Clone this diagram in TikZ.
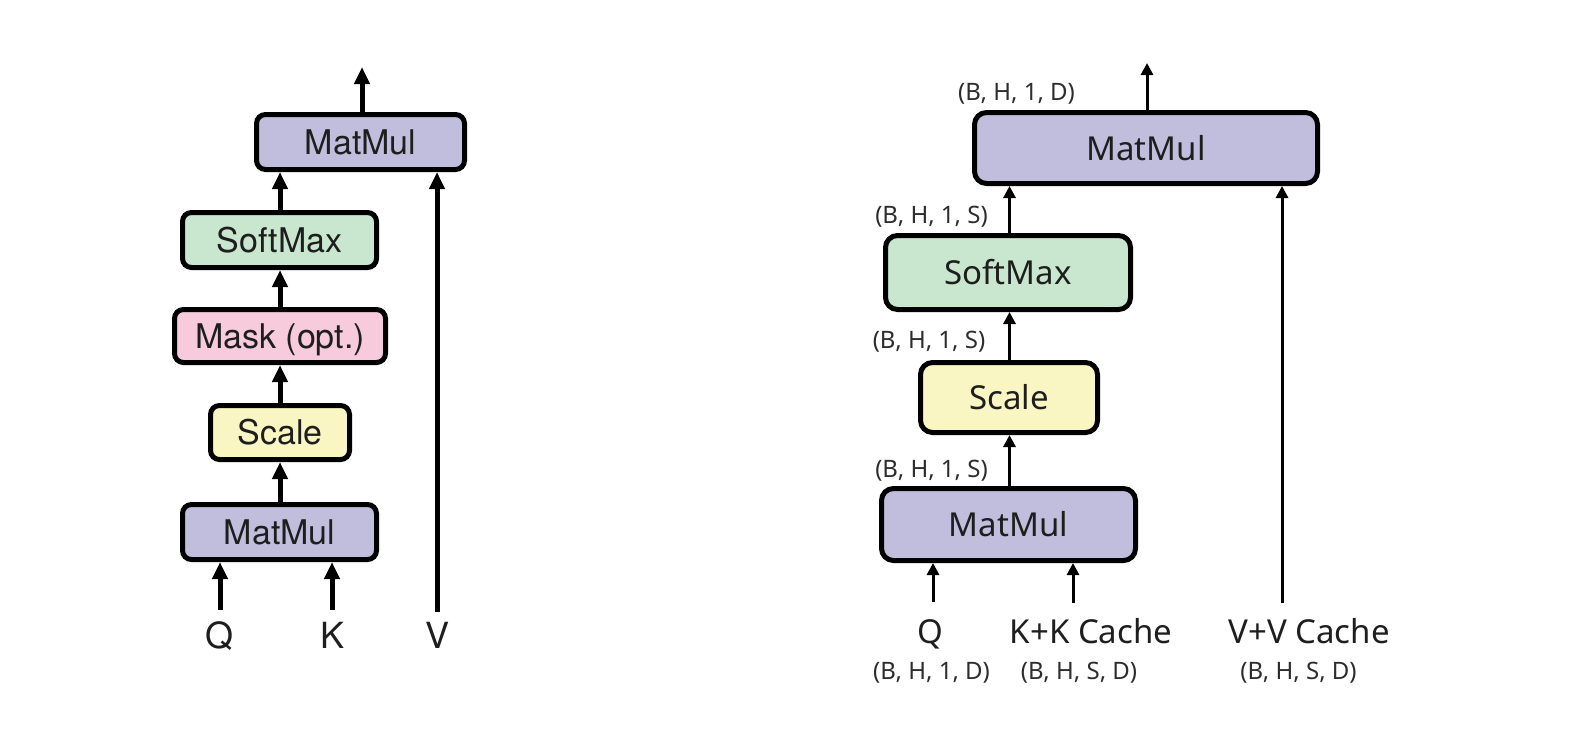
\documentclass[tikz,border=0pt]{standalone}
\usepackage{fontspec}
\setmainfont{TeX Gyre Heros}
\newfontfamily\rfont{Noto Sans}
\usetikzlibrary{arrows.meta}
\definecolor{cpurple}{RGB}{193,190,221}
\definecolor{cgreen}{RGB}{201,230,206}
\definecolor{cpink}{RGB}{247,203,219}
\definecolor{cyellow}{RGB}{250,246,196}
\definecolor{ctext}{RGB}{30,30,30}
\definecolor{clabel}{RGB}{45,45,45}
\begin{document}
\begin{tikzpicture}[x=1pt,y=-1pt,
 lbox/.style={draw=black, line width=5pt, rounded corners=9pt, inner sep=0pt, font=\fontsize{34}{40}\selectfont, text=ctext, text height=24pt, text depth=0pt},
 rbox/.style={draw=black, line width=5pt, rounded corners=12pt, inner sep=0pt, font=\rfont\fontsize{33}{40}\selectfont, text=ctext, text height=24pt, text depth=0pt},
 larr/.style={line width=5pt, -{Triangle[width=15pt,length=17pt]}},
 rarr/.style={line width=3pt, -{Triangle[width=12pt,length=12pt]}},
 lin/.style={font=\fontsize{36}{40}\selectfont, text=ctext, inner sep=0pt, anchor=base},
 rin/.style={font=\rfont\fontsize{33}{40}\selectfont, text=ctext, inner sep=0pt, anchor=base},
 shp/.style={font=\rfont\fontsize{24}{28}\selectfont, text=clabel, inner sep=0pt, anchor=base},
]
\fill[white] (0,0) rectangle (1586,744);
\useasboundingbox (0,0) rectangle (1586,744);

% ---------- left diagram ----------
\node[lbox, fill=cpurple, minimum width=208pt, minimum height=55pt] (lmm2) at (360.5,142) {MatMul};
\node[lbox, fill=cgreen, minimum width=194pt, minimum height=55pt] (lsm) at (279.5,240) {SoftMax};
\node[lbox, fill=cpink, minimum width=211pt, minimum height=53pt] (lmask) at (280,336) {Mask (opt.)};
\node[lbox, fill=cyellow, minimum width=139pt, minimum height=54pt] (lsc) at (280,432.5) {Scale};
\node[lbox, fill=cpurple, minimum width=194pt, minimum height=55pt] (lmm1) at (279.5,532) {MatMul};

\node[lin] (lq) at (220,648) {Q};
\node[lin] (lk) at (333,648) {K};
\node[lin] (lv) at (437,648) {V};

\coordinate (lcol) at (280,0);
\coordinate (lq0) at (220,610);
\coordinate (lk0) at (332,610);
\coordinate (lv0) at (437,612);
\coordinate (lout) at (362,67);

\draw[larr] (lq0) -- (lq0 |- lmm1.south);
\draw[larr] (lk0) -- (lk0 |- lmm1.south);
\draw[larr] (lcol |- lmm1.north) -- (lcol |- lsc.south);
\draw[larr] (lcol |- lsc.north) -- (lcol |- lmask.south);
\draw[larr] (lcol |- lmask.north) -- (lcol |- lsm.south);
\draw[larr] (lcol |- lsm.north) -- (lcol |- lmm2.south);
\draw[larr] (lv0) -- (lv0 |- lmm2.south);
\draw[larr] (lout |- lmm2.north) -- (lout);

% ---------- right diagram ----------
\node[rbox, fill=cpurple, minimum width=343pt, minimum height=71pt] (rmm2) at (1146,148) {MatMul};
\node[rbox, fill=cgreen, minimum width=245pt, minimum height=74pt] (rsm) at (1008,272.5) {SoftMax};
\node[rbox, fill=cyellow, minimum width=177pt, minimum height=70pt] (rsc) at (1009,397.5) {Scale};
\node[rbox, fill=cpurple, minimum width=254pt, minimum height=72pt] (rmm1) at (1008.5,524.5) {MatMul};

\node[rin] (rq) at (930,643) {Q};
\node[rin] (rk) at (1091,643) {K+K Cache};
\node[rin] (rv) at (1309,643) {V+V Cache};

\node[shp] (sq) at (931.5,679) {(B, H, 1, D)};
\node[shp] (sk) at (1079,679) {(B, H, S, D)};
\node[shp] (sv) at (1298.5,679) {(B, H, S, D)};
\node[shp] (s1) at (931.5,477) {(B, H, 1, S)};
\node[shp] (s2) at (929,348) {(B, H, 1, S)};
\node[shp] (s3) at (931.5,223) {(B, H, 1, S)};
\node[shp] (s4) at (1016.5,100) {(B, H, 1, D)};

\coordinate (rcol) at (1009.5,0);
\coordinate (rq0) at (933,602);
\coordinate (rk0) at (1073,603);
\coordinate (rv0) at (1282,603);
\coordinate (rout) at (1147,63);

\draw[rarr] (rq0) -- (rq0 |- rmm1.south);
\draw[rarr] (rk0) -- (rk0 |- rmm1.south);
\draw[rarr] (rcol |- rmm1.north) -- (rcol |- rsc.south);
\draw[rarr] (rcol |- rsc.north) -- (rcol |- rsm.south);
\draw[rarr] (rcol |- rsm.north) -- (rcol |- rmm2.south);
\draw[rarr] (rv0) -- (rv0 |- rmm2.south);
\draw[rarr] (rout |- rmm2.north) -- (rout);
\end{tikzpicture}
\end{document}
